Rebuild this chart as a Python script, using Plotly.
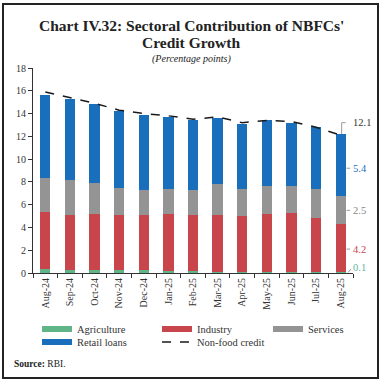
import plotly.graph_objects as go

months = ["Aug-24", "Sep-24", "Oct-24", "Nov-24", "Dec-24", "Jan-25", "Feb-25",
          "Mar-25", "Apr-25", "May-25", "Jun-25", "Jul-25", "Aug-25"]
agriculture = [0.35, 0.3, 0.3, 0.3, 0.3, 0.2, 0.2, 0.1, 0.1, 0.1, 0.1, 0.1, 0.1]
industry = [5.0, 4.8, 4.9, 4.8, 4.8, 5.0, 4.9, 5.0, 4.9, 5.1, 5.2, 4.7, 4.2]
services = [3.0, 3.1, 2.7, 2.4, 2.2, 2.2, 2.2, 2.7, 2.4, 2.4, 2.3, 2.6, 2.5]
retail = [7.3, 7.1, 6.9, 6.7, 6.6, 6.3, 6.1, 5.8, 5.7, 5.8, 5.6, 5.4, 5.4]
nonfood = [15.9, 15.4, 14.9, 14.3, 14.0, 13.8, 13.5, 13.7, 13.2, 13.4, 13.3, 12.8, 12.1]
y_ticks = list(range(0, 19, 2))

C_AGRI = "#5fb585"
C_IND = "#c8464b"
C_SERV = "#949494"
C_RET = "#1a6fbd"
SERIF = "Liberation Serif"

W, H = 382, 384
ML, MR, MT, MB = 33, 29, 68, 111
PW, PH = W - ML - MR, H - MT - MB


def px(x):
    return (x - ML) / PW


def py(y):
    return (H - MB - y) / PH


fig = go.Figure()
series = [("Agriculture", agriculture, C_AGRI), ("Industry", industry, C_IND),
          ("Services", services, C_SERV), ("Retail loans", retail, C_RET)]
for name, vals, col in series:
    fig.add_trace(go.Bar(x=months, y=vals, name=name, marker_color=col,
                         marker_line_width=0, showlegend=False))
fig.add_trace(go.Scatter(x=months, y=nonfood, mode="lines", name="Non-food credit",
                         line=dict(color="#1a1a1a", width=1.5, dash="dash"),
                         showlegend=False))

# legend entries (wide swatches) laid out as a 3-column grid via separate legends
leg_of = {"Agriculture": "legend", "Industry": "legend", "Services": "legend3",
          "Retail loans": "legend2"}
for name, vals, col in series:
    fig.add_trace(go.Scatter(x=[None], y=[None], mode="lines", name=name,
                             legend=leg_of[name], line=dict(color=col, width=6)))
fig.add_trace(go.Scatter(x=[None], y=[None], mode="lines", name="Non-food credit",
                         legend="legend2",
                         line=dict(color="#1a1a1a", width=1.5, dash="dash")))

n = len(months)
last = n - 1
agri_top = agriculture[-1]
ind_top = agri_top + industry[-1]
serv_top = ind_top + services[-1]
ret_top = serv_top + retail[-1]

annotations = [
    dict(text="<b>Chart IV.32: Sectoral Contribution of NBFCs'</b>", x=px(191), y=py(25),
         font=dict(size=15.5, family=SERIF, color="#222")),
    dict(text="<b>Credit Growth</b>", x=px(191), y=py(43),
         font=dict(size=15.5, family=SERIF, color="#222")),
    dict(text="<i>(Percentage points)</i>", x=px(191), y=py(59),
         font=dict(size=10, family=SERIF, color="#222")),
    dict(text="<b>Source:</b> RBI.", x=px(12), y=py(364), xanchor="left",
         font=dict(size=9.5, family=SERIF, color="#222")),
]
for a in annotations:
    a.update(xref="paper", yref="paper", showarrow=False)
    a.setdefault("xanchor", "center")
    a["yanchor"] = "middle"

# right-side value labels
lab = [
    (f"{nonfood[-1]}", 13.2, "#333"),
    (f"{retail[-1]}", (serv_top + ret_top) / 2 - 0.3, C_RET),
    (f"{services[-1]}", (ind_top + serv_top) / 2 - 0.05, "#888"),
    (f"{industry[-1]}", (agri_top + ind_top) / 2 - 0.1, C_IND),
    (f"{agriculture[-1]}", 0.45, "#5fb5a0"),
]
for t, yv, col in lab:
    annotations.append(dict(text=t, x=last + 0.42, y=yv, xref="x", yref="y",
                            xanchor="left", yanchor="middle", showarrow=False,
                            font=dict(size=10.5, family=SERIF, color=col)))

shapes = [
    dict(type="rect", xref="paper", yref="paper", x0=px(3), x1=px(378), y0=py(378), y1=py(4),
         line=dict(color="#222", width=2)),
    dict(type="path", xref="x", yref="y",
         path=f"M {last + 0.04},{ret_top} L {last + 0.04},13.2 L {last + 0.2},13.2",
         line=dict(color="#999", width=1)),
]
for t, yv, col in lab[1:4]:
    shapes.append(dict(type="line", xref="x", yref="y", x0=last + 0.24, x1=last + 0.38,
                       y0=yv, y1=yv, line=dict(color="#999", width=1)))
shapes.append(dict(type="line", xref="x", yref="y", x0=last + 0.3, x1=last + 0.42,
                   y0=0.05, y1=0.35, line=dict(color="#999", width=1)))

leg_common = dict(orientation="h", xref="container", yref="container",
                  xanchor="left", yanchor="middle",
                  entrywidth=75, entrywidthmode="pixels", itemwidth=30,
                  traceorder="normal",
                  font=dict(size=10.5, family=SERIF, color="#333"),
                  bgcolor="rgba(0,0,0,0)", tracegroupgap=0)

fig.update_layout(
    width=W, height=H, autosize=False,
    margin=dict(l=ML, r=MR, t=MT, b=MB, pad=0),
    barmode="stack", bargap=0.58,
    plot_bgcolor="white", paper_bgcolor="white",
    font=dict(family=SERIF, size=10, color="#333"),
    legend=dict(leg_common, x=37 / W, y=1 - 329 / H),
    legend2=dict(leg_common, x=37 / W, y=1 - 342 / H),
    legend3=dict(leg_common, x=268 / W, y=1 - 329 / H),
    annotations=annotations,
    shapes=shapes,
)
fig.update_xaxes(type="category", tickangle=-90, showline=True, linecolor="#333", linewidth=1,
                 ticks="outside", tickson="boundaries", ticklen=4, tickcolor="#333",
                 tickfont=dict(size=10, family=SERIF, color="#333"), showgrid=False,
                 range=[-0.5, n - 0.5], automargin=False)
fig.update_yaxes(range=[0, 18], tickvals=y_ticks, showline=True, linecolor="#333", linewidth=1,
                 ticks="outside", ticklen=4, tickcolor="#333", showgrid=False, zeroline=False,
                 tickfont=dict(size=10, family=SERIF, color="#333"), automargin=False)

fig.write_html("out.html", config={"displayModeBar": False},
               post_script="document.body.style.margin='0';document.body.style.overflow='hidden';")
